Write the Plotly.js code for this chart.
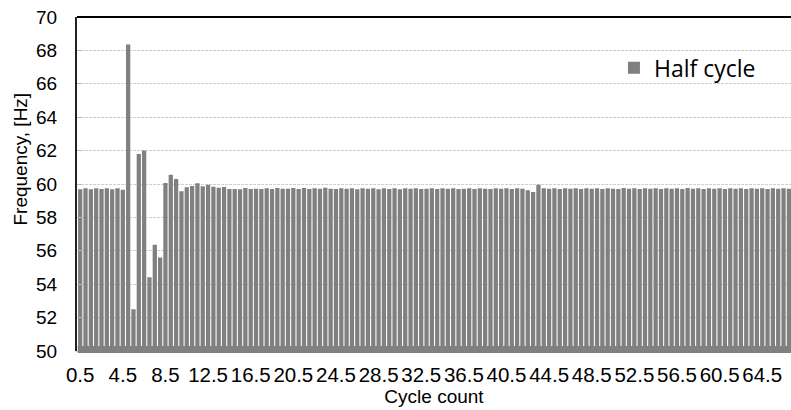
<!DOCTYPE html>
<html>
<head>
<meta charset="utf-8">
<script src="https://cdn.plot.ly/plotly-3.0.1.min.js"></script>
<style>html,body{margin:0;padding:0;background:#fff;}#chart{width:791px;height:410px;}</style>
</head>
<body>
<div id="chart"></div>
<script>
// Cycle count (x) – half-cycle steps
const cycleCount = [
 0.5,1.0,1.5,2.0,2.5,3.0,3.5,4.0,4.5,5.0,5.5,6.0,6.5,7.0,7.5,8.0,8.5,9.0,9.5,10.0,
 10.5,11.0,11.5,12.0,12.5,13.0,13.5,14.0,14.5,15.0,15.5,16.0,16.5,17.0,17.5,18.0,18.5,19.0,19.5,20.0,
 20.5,21.0,21.5,22.0,22.5,23.0,23.5,24.0,24.5,25.0,25.5,26.0,26.5,27.0,27.5,28.0,28.5,29.0,29.5,30.0,
 30.5,31.0,31.5,32.0,32.5,33.0,33.5,34.0,34.5,35.0,35.5,36.0,36.5,37.0,37.5,38.0,38.5,39.0,39.5,40.0,
 40.5,41.0,41.5,42.0,42.5,43.0,43.5,44.0,44.5,45.0,45.5,46.0,46.5,47.0,47.5,48.0,48.5,49.0,49.5,50.0,
 50.5,51.0,51.5,52.0,52.5,53.0,53.5,54.0,54.5,55.0,55.5,56.0,56.5,57.0,57.5,58.0,58.5,59.0,59.5,60.0,
 60.5,61.0,61.5,62.0,62.5,63.0,63.5,64.0,64.5,65.0,65.5,66.0,66.5,67.0
];
// Frequency per half cycle [Hz]
const halfCycleFreq = [
 59.68,59.74,59.68,59.74,59.70,59.74,59.68,59.74,59.66,68.35,
 52.50,61.80,62.00,54.42,56.36,55.60,60.06,60.56,60.30,59.56,
 59.80,59.88,60.04,59.86,59.96,59.84,59.78,59.82,59.70,59.70,
 59.68,59.76,59.70,59.72,59.70,59.74,59.70,59.76,59.72,59.72,
 59.76,59.70,59.76,59.70,59.74,59.72,59.78,59.72,59.70,59.74,
 59.72,59.74,59.68,59.74,59.72,59.74,59.68,59.74,59.70,59.74,
 59.68,59.74,59.72,59.74,59.70,59.72,59.74,59.70,59.74,59.72,
 59.74,59.70,59.72,59.74,59.70,59.74,59.72,59.70,59.74,59.72,
 59.74,59.70,59.74,59.72,59.62,59.52,59.96,59.74,59.72,59.74,
 59.70,59.74,59.72,59.74,59.70,59.74,59.72,59.74,59.70,59.74,
 59.72,59.70,59.76,59.72,59.74,59.70,59.74,59.72,59.74,59.70,
 59.74,59.72,59.74,59.70,59.76,59.72,59.74,59.70,59.74,59.72,
 59.74,59.70,59.74,59.72,59.74,59.70,59.74,59.72,59.74,59.70,
 59.74,59.72,59.74,59.72
];
const yTicks = [50,52,54,56,58,60,62,64,66,68,70];
const seriesName = 'Half cycle';

const axisFont = {family:'Liberation Sans, Arial, sans-serif', size:19, color:'#000'};
const xTickFont = {family:'Liberation Sans, Arial, sans-serif', size:20.5, color:'#000'};

const trace = {
  type:'bar', x:cycleCount, y:halfCycleFreq, name:seriesName,
  marker:{color:'#808080', line:{width:0}}, showlegend:true
};

const layout = {
  width:791, height:410,
  margin:{l:77, r:0, t:17, b:59},
  paper_bgcolor:'#fff', plot_bgcolor:'#fff',
  bargap:0.2,
  font:axisFont,
  xaxis:{
    range:[0.2,67.2], tickmode:'linear', tick0:0.5, dtick:4, tickangle:0,
    showgrid:false, zeroline:false, ticks:'', ticklabelstandoff:5,
    showline:true, linecolor:'#d9d9d9', linewidth:1,
    tickfont:xTickFont,
    title:{text:'Cycle count', font:axisFont, standoff:2}
  },
  yaxis:{
    range:[50,70], tickvals:yTicks, ticktext:yTicks.map(String),
    showgrid:true, gridcolor:'#cfcfcf', gridwidth:1, griddash:'3px,1px',
    zeroline:false, ticks:'inside', ticklen:5, tickcolor:'#a9bfd9',
    showline:true, linecolor:'#222', linewidth:2,
    ticklabelstandoff:14, tickfont:axisFont
  },
  legend:{
    x:0.752, xanchor:'left', y:0.912, yanchor:'top',
    bgcolor:'rgba(0,0,0,0)', borderwidth:0,
    font:{family:'Open Sans, sans-serif', size:23, color:'#000'}
  },
  shapes:[
    {type:'line', xref:'paper', yref:'paper', x0:0, x1:1, y0:1, y1:1, line:{color:'#000', width:2}},
    {type:'rect', xref:'paper', yref:'paper', x0:0.001, x1:1, y0:-0.006, y1:0.015, fillcolor:'#808080', line:{width:0}, layer:'above'}
  ],
  annotations:[
    {xref:'paper', yref:'paper', x:-0.079, y:0.575, text:'Frequency, [Hz]', textangle:-90,
     showarrow:false, font:axisFont, xanchor:'center', yanchor:'middle'}
  ]
};

Plotly.newPlot('chart', [trace], layout, {displayModeBar:false, staticPlot:true});
</script>
</body>
</html>
